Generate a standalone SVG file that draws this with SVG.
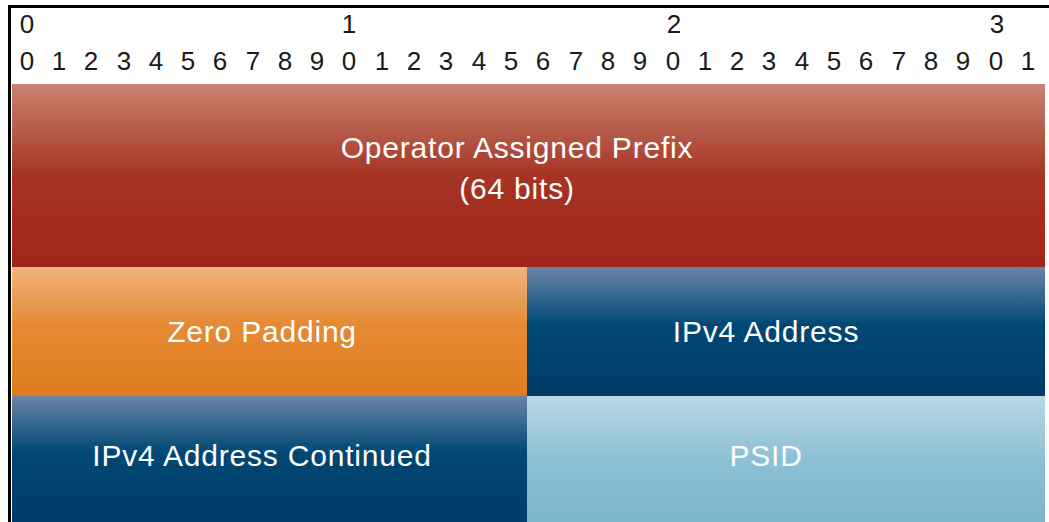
<svg xmlns="http://www.w3.org/2000/svg" width="1049" height="522" viewBox="0 0 1049 522">
<defs>
<linearGradient id="gRed" x1="0" y1="0" x2="0" y2="1">
<stop offset="0" stop-color="#c98471"/>
<stop offset="0.5" stop-color="#a63424"/>
<stop offset="1" stop-color="#9e261b"/>
</linearGradient>
<linearGradient id="gOrange" x1="0" y1="0" x2="0" y2="1">
<stop offset="0" stop-color="#f1b47f"/>
<stop offset="0.45" stop-color="#e58a34"/>
<stop offset="1" stop-color="#e07b1e"/>
</linearGradient>
<linearGradient id="gBlue" x1="0" y1="0" x2="0" y2="1">
<stop offset="0" stop-color="#6985a7"/>
<stop offset="0.45" stop-color="#004874"/>
<stop offset="1" stop-color="#003b69"/>
</linearGradient>
<linearGradient id="gLight" x1="0" y1="0" x2="0" y2="1">
<stop offset="0" stop-color="#bad8e3"/>
<stop offset="0.5" stop-color="#8dc0d6"/>
<stop offset="1" stop-color="#7bb5ce"/>
</linearGradient>
</defs>
<style>
.num{font-family:"Liberation Sans",Arial,sans-serif;font-size:26px;fill:#1a1a1a;text-anchor:middle}
.lbl{font-family:"Liberation Sans",Arial,sans-serif;font-size:30px;letter-spacing:0.8px;fill:#ffffff;text-anchor:middle}
</style>
<rect x="0" y="0" width="1049" height="522" fill="#ffffff"/>
<g id="ruler">
<rect x="8" y="5" width="1041" height="3" fill="#000000"/>
<rect x="8" y="5" width="3" height="517" fill="#000000"/>
<text class="num" x="27" y="33">0</text>
<text class="num" x="349" y="33">1</text>
<text class="num" x="674" y="33">2</text>
<text class="num" x="997" y="33">3</text>
<text class="num" y="70"><tspan x="27">0</tspan><tspan x="59">1</tspan><tspan x="91">2</tspan><tspan x="124">3</tspan><tspan x="156">4</tspan><tspan x="188">5</tspan><tspan x="220">6</tspan><tspan x="253">7</tspan><tspan x="285">8</tspan><tspan x="317">9</tspan><tspan x="349">0</tspan><tspan x="382">1</tspan><tspan x="414">2</tspan><tspan x="446">3</tspan><tspan x="479">4</tspan><tspan x="511">5</tspan><tspan x="543">6</tspan><tspan x="576">7</tspan><tspan x="608">8</tspan><tspan x="640">9</tspan><tspan x="673">0</tspan><tspan x="705">1</tspan><tspan x="737">2</tspan><tspan x="769">3</tspan><tspan x="802">4</tspan><tspan x="834">5</tspan><tspan x="866">6</tspan><tspan x="899">7</tspan><tspan x="931">8</tspan><tspan x="963">9</tspan><tspan x="996">0</tspan><tspan x="1028">1</tspan></text>
</g>
<g id="prefix">
<rect x="12" y="84" width="1033" height="183" fill="url(#gRed)"/>
<text class="lbl" x="517" y="158">Operator Assigned Prefix</text>
<text class="lbl" x="517" y="199">(64 bits)</text>
</g>
<g id="zero-padding">
<rect x="12" y="267" width="515" height="129" fill="url(#gOrange)"/>
<text class="lbl" x="262" y="342">Zero Padding</text>
</g>
<g id="ipv4-address">
<rect x="527" y="267" width="518" height="129" fill="url(#gBlue)"/>
<text class="lbl" x="766" y="342">IPv4 Address</text>
</g>
<g id="ipv4-continued">
<rect x="12" y="396" width="515" height="126" fill="url(#gBlue)"/>
<text class="lbl" x="262" y="466">IPv4 Address Continued</text>
</g>
<g id="psid">
<rect x="527" y="396" width="518" height="126" fill="url(#gLight)"/>
<text class="lbl" x="766" y="466">PSID</text>
</g>
<g id="connectors"></g>
</svg>
